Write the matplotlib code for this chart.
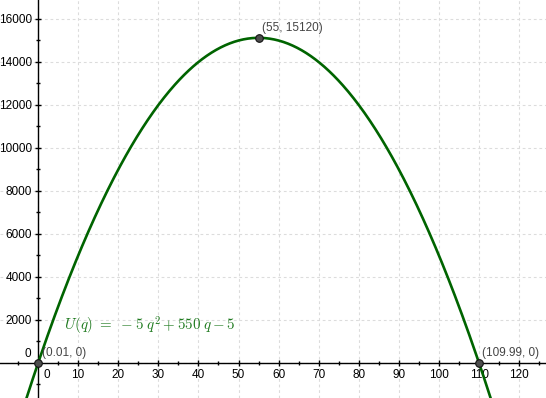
import numpy as np
import matplotlib.pyplot as plt
from matplotlib.ticker import MultipleLocator

# U(q) = a q^2 + b q + c
coeffs = [-5, 550, -5]
point_q = [0.01, 55, 109.99]
point_u = [0, 15120, 0]
point_labels = ["(0.01, 0)", "(55, 15120)", "(109.99, 0)"]
x_ticks = [10, 20, 30, 40, 50, 60, 70, 80, 90, 100, 110, 120]
y_ticks = [2000, 4000, 6000, 8000, 10000, 12000, 14000, 16000]

plt.rcParams['font.family'] = ['Liberation Sans', 'DejaVu Sans']
plt.rcParams['mathtext.fontset'] = 'cm'

green = '#006400'
fig = plt.figure(figsize=(5.46, 3.98), dpi=100)
ax = fig.add_axes([0, 0, 1, 1])
ax.set_xlim(-9.5, 126.7)
ax.set_ylim(-1630, 16880)

# axes through origin
for side in ['top', 'right']:
    ax.spines[side].set_visible(False)
for side in ['left', 'bottom']:
    ax.spines[side].set_position(('data', 0))
    ax.spines[side].set_linewidth(1.0)
    ax.spines[side].set_zorder(2)

ax.set_xticks(x_ticks)
ax.set_xticklabels([str(t) for t in x_ticks])
ax.set_yticks(y_ticks)
ax.set_yticklabels([str(t) for t in y_ticks])
ax.xaxis.set_minor_locator(MultipleLocator(5))
ax.yaxis.set_minor_locator(MultipleLocator(1000))
ax.tick_params(which='major', direction='inout', length=5, width=1,
               labelsize=8.5, pad=2)
ax.tick_params(which='minor', direction='inout', length=3, width=1)

# labels for zero, placed as GeoGebra does
ax.annotate('0', (0, 0), xytext=(4, -4), textcoords='offset points',
            ha='left', va='top', fontsize=8.5)
ax.annotate('0', (0, 0), xytext=(-5, 2), textcoords='offset points',
            ha='right', va='bottom', fontsize=8.5)

# grid
gx = np.arange(-10, 130, 10)
gy = np.arange(-2000, 18000, 2000)
for v in gx:
    ax.axvline(v, color='#dcdcdc', lw=0.8, ls=(0, (2.5, 2.5)), zorder=0)
for v in gy:
    ax.axhline(v, color='#dcdcdc', lw=0.8, ls=(0, (2.5, 2.5)), zorder=0)

q = np.linspace(-9.5, 126.7, 600)
u = np.polyval(coeffs, q)
ax.plot(q, u, color=green, lw=1.9, zorder=3)

ax.scatter(point_q, point_u, s=30, color='#4d4d4d', edgecolor='#111111',
           linewidth=0.8, zorder=5)
for px, py, lab in zip(point_q, point_u, point_labels):
    ax.annotate(lab, (px, py), xytext=(2.5, 3), textcoords='offset points',
                ha='left', va='bottom', fontsize=8.5, color='#444444')

ax.text(6.5, 1700, r'$U(q)\ =\ -5\;q^2 + 550\;q - 5$', color='#1f7a1f',
        fontsize=10.8, ha='left', va='center')

fig.savefig('out.png', dpi=100)
